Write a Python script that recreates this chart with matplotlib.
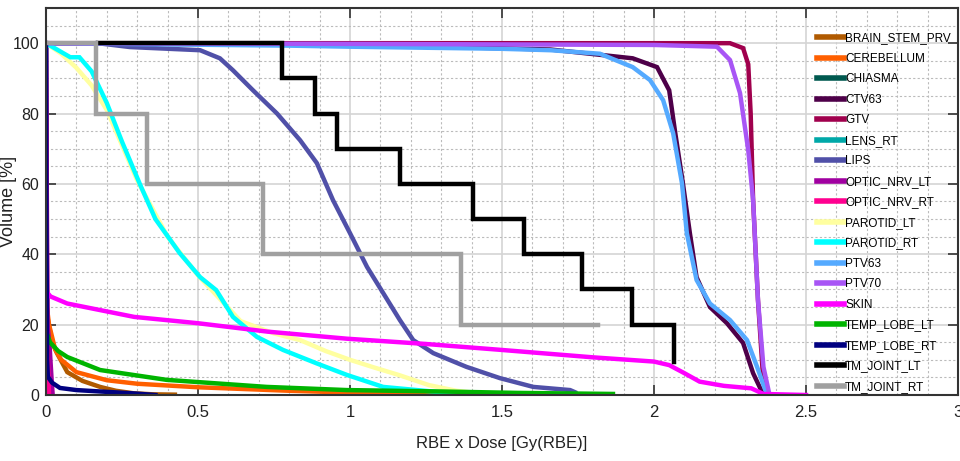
import matplotlib
matplotlib.use("Agg")
import matplotlib.pyplot as plt
from matplotlib.ticker import MultipleLocator

plt.rcParams['font.family'] = ['Liberation Sans Narrow', 'Liberation Sans', 'DejaVu Sans']

# structure names, colours, and DVH points
names = ["BRAIN_STEM_PRV", "CEREBELLUM", "CHIASMA", "CTV63", "GTV", "LENS_RT", "LIPS",
         "OPTIC_NRV_LT", "OPTIC_NRV_RT", "PAROTID_LT", "PAROTID_RT", "PTV63", "PTV70",
         "SKIN", "TEMP_LOBE_LT", "TEMP_LOBE_RT", "TM_JOINT_LT", "TM_JOINT_RT"]
colors = ["#B05A00", "#FF5F00", "#00594F", "#4E0049", "#A0004D", "#00A8A8", "#5050A8",
          "#A000A0", "#FF0090", "#FFFFA0", "#00FFFF", "#55AAFF", "#A855F5",
          "#FF00FF", "#00B400", "#000080", "#000000", "#A0A0A0"]

brain_stem_x = [0, 0.005, 0.02, 0.036, 0.07, 0.12, 0.178, 0.23, 0.287, 0.35, 0.424]
brain_stem_y = [28, 22, 15, 11.9, 6.5, 4.0, 2.3, 1.2, 0.5, 0.2, 0.1]

cerebellum_x = [0, 0.01, 0.03, 0.05, 0.1, 0.2, 0.3, 0.5, 0.8, 1.0, 1.3, 1.45]
cerebellum_y = [27, 20, 13, 10, 6.5, 4.2, 3.2, 2.2, 1.2, 0.7, 0.3, 0.1]

chiasma_x = [0, 0.003, 0.006, 0.01, 0.015]
chiasma_y = [100, 30, 8, 3, 0]

ctv63_x = [0, 0.8, 1.2, 1.66, 1.93, 2.01, 2.05, 2.07, 2.095, 2.118, 2.14, 2.184, 2.24,
           2.293, 2.326, 2.36]
ctv63_y = [100, 99.6, 99.2, 98.2, 95.7, 93.2, 86.6, 74.4, 60.2, 46, 33.5, 25, 20.4,
           14.8, 6.2, 0]

gtv_x = [0, 1.0, 2.0, 2.25, 2.293, 2.31, 2.318, 2.326, 2.342, 2.36, 2.38]
gtv_y = [100, 100, 100, 100, 98.6, 94, 80, 55.4, 27, 3.4, 0]

lens_x = [0, 0.003, 0.008]
lens_y = [100, 20, 0]

lips_x = [0.17, 0.276, 0.507, 0.572, 0.615, 0.681, 0.76, 0.836, 0.891, 0.944, 1.0,
          1.056, 1.109, 1.164, 1.208, 1.274, 1.383, 1.493, 1.603, 1.724, 1.74]
lips_y = [100, 98.9, 98, 95.7, 92.3, 86.6, 80, 72.4, 65.9, 55.4, 46,
          36.4, 29, 21.3, 15.6, 11.9, 8, 4.8, 2.3, 1.4, 0.8]

optic_lt_x = [0, 0.005, 0.012, 0.018, 0.022]
optic_lt_y = [100, 20, 13.6, 5, 0]

optic_rt_x = [0, 0.004, 0.01]
optic_rt_y = [100, 15, 0]

parotid_lt_x = [0, 0.05, 0.1, 0.15, 0.2, 0.25, 0.3, 0.4, 0.5, 0.64, 0.75, 0.836, 0.92,
                1.0, 1.08, 1.16, 1.26, 1.35, 1.43]
parotid_lt_y = [100, 97, 93, 88, 81, 71, 61, 45, 34, 21, 17.5, 15.6, 12.5,
                10, 7.8, 5.7, 2.8, 1.2, 0.4]

parotid_rt_x = [0, 0.04, 0.08, 0.11, 0.15, 0.2, 0.25, 0.31, 0.36, 0.44, 0.507, 0.56,
                0.615, 0.694, 0.78, 0.89, 0.99, 1.109, 1.27, 1.36]
parotid_rt_y = [100, 98, 96, 96, 92, 83, 72, 59.7, 50, 40.3, 33.5, 29.8,
                22.2, 16.5, 12.8, 9, 5.7, 2.3, 1.0, 0.4]

ptv63_x = [0, 0.8, 1.0, 1.5, 1.66, 1.822, 1.93, 1.987, 2.03, 2.063, 2.092, 2.108, 2.14,
           2.184, 2.25, 2.306, 2.339, 2.372]
ptv63_y = [100, 99.3, 99, 98.4, 98, 97, 93.2, 89.5, 83.8, 74.4, 60.2, 46, 32.7,
           26, 21.3, 15.6, 8, 0]

ptv70_x = [0, 1.0, 2.0, 2.207, 2.25, 2.283, 2.31, 2.326, 2.342, 2.36, 2.38]
ptv70_y = [100, 99.8, 99.5, 99, 95.2, 85.8, 69.6, 55.4, 27, 8, 0]

skin_x = [0, 0.015, 0.07, 0.29, 0.5, 0.73, 0.99, 1.25, 1.5, 1.8, 2.0, 2.05, 2.1, 2.15,
          2.23, 2.32, 2.36, 2.5]
skin_y = [29.5, 28, 26, 22.2, 20.4, 18, 16, 14.5, 12.8, 10.7, 9.5, 8.5, 6.2, 3.8,
          2.6, 1.9, 0.3, 0]

temp_lt_x = [0, 0.005, 0.013, 0.04, 0.07, 0.178, 0.397, 0.726, 0.99, 1.3, 1.55, 1.865]
temp_lt_y = [18, 17, 15, 12.5, 10.8, 7.1, 4.3, 2.3, 1.4, 1.0, 0.6, 0.3]

temp_rt_x = [0, 0.002, 0.004, 0.006, 0.02, 0.046, 0.1, 0.178, 0.28, 0.36]
temp_rt_y = [100, 40, 10, 5.2, 3.5, 2.0, 1.4, 1.0, 0.5, 0.0]

tm_lt_x = [0.17, 0.776, 0.776, 0.885, 0.885, 0.957, 0.957, 1.164, 1.164, 1.405, 1.405,
           1.572, 1.572, 1.763, 1.763, 1.928, 1.928, 2.065, 2.065]
tm_lt_y = [100, 100, 90, 90, 80, 80, 70, 70, 60, 60, 50,
           50, 40, 40, 30, 30, 20, 20, 9.5]

tm_rt_x = [0, 0.165, 0.165, 0.332, 0.332, 0.714, 0.714, 1.365, 1.365, 1.815]
tm_rt_y = [100, 100, 80, 80, 60, 60, 40, 40, 20, 20]

series_x = [brain_stem_x, cerebellum_x, chiasma_x, ctv63_x, gtv_x, lens_x, lips_x,
            optic_lt_x, optic_rt_x, parotid_lt_x, parotid_rt_x, ptv63_x, ptv70_x,
            skin_x, temp_lt_x, temp_rt_x, tm_lt_x, tm_rt_x]
series_y = [brain_stem_y, cerebellum_y, chiasma_y, ctv63_y, gtv_y, lens_y, lips_y,
            optic_lt_y, optic_rt_y, parotid_lt_y, parotid_rt_y, ptv63_y, ptv70_y,
            skin_y, temp_lt_y, temp_rt_y, tm_lt_y, tm_rt_y]

fig = plt.figure(figsize=(9.6, 4.61), dpi=100)
ax = fig.add_axes([46 / 960, 66 / 461, 912 / 960, 387 / 461])

for name, c, xs, ys in zip(names, colors, series_x, series_y):
    ax.plot(xs, ys, color=c, lw=3.2, label=name, solid_joinstyle="miter")

ax.set_xlim(0, 3)
ax.set_ylim(0, 110)
ax.xaxis.set_minor_locator(MultipleLocator(0.1))
ax.yaxis.set_minor_locator(MultipleLocator(5))
ax.set_xticks([0, 0.5, 1, 1.5, 2, 2.5, 3])
ax.set_xticklabels(["0", "0.5", "1", "1.5", "2", "2.5", "3"], fontsize=12)
ax.set_yticks([0, 20, 40, 60, 80, 100])
ax.set_yticklabels(["0", "20", "40", "60", "80", "100"], fontsize=11.5)
ax.grid(which="major", color="#D4D4D4", lw=1.2, ls="-")
ax.grid(which="minor", color="#BBBBBB", lw=0.8, ls=(0, (2, 2)))
ax.set_axisbelow(True)
ax.tick_params(which="major", direction="in", length=7, width=1.2, top=True, right=True,
               colors="#333333", labelcolor="#222222", pad=7)
ax.tick_params(axis="y", which="major", pad=5)
ax.tick_params(which="minor", length=0)
for s in ax.spines.values():
    s.set_linewidth(1.5)
    s.set_color("#333333")

ax.set_xlabel("RBE x Dose [Gy(RBE)]", fontsize=12, color="#222222", labelpad=12)
ax.set_ylabel("Volume [%]", fontsize=13, color="#222222")
ax.yaxis.set_label_coords(-29 / 912, 0.5)

leg = ax.legend(loc="upper right", bbox_to_anchor=(1.0, 0.955), frameon=False,
                fontsize=8.5, handlelength=2.3, handletextpad=0.1, labelspacing=0.72,
                borderaxespad=0.2)
for h in leg.get_lines():
    h.set_linewidth(4)

fig.savefig("out.png", dpi=100)
